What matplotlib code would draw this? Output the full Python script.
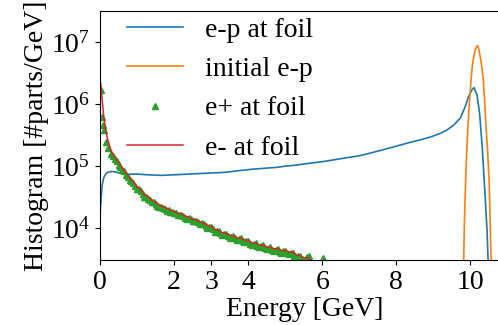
"""
e-p beam energy spectra at the foil, log histogram
"""
import numpy as np
import matplotlib
matplotlib.use('Agg')
import matplotlib.pyplot as plt
from matplotlib.ticker import NullLocator

plt.rcParams['font.family'] = ['Liberation Serif', 'DejaVu Serif']
plt.rcParams['mathtext.fontset'] = 'stix'
plt.rcParams['font.size'] = 20

# e-p at foil
ep_foil_x = [0.0, 0.03, 0.06, 0.1, 0.15, 0.2, 0.3, 0.4, 0.5, 0.6, 0.8, 1.0, 1.2, 1.4,
             1.67, 2.0, 2.3, 2.6, 3.0, 3.3, 3.5, 3.78, 4.1, 4.5, 4.8, 5.0, 5.3, 5.58,
             6.0, 6.3, 6.6, 7.0, 7.39, 7.7, 8.0, 8.29, 8.6, 8.92, 9.2, 9.37,
             9.55, 9.73, 9.86, 9.95, 10.05, 10.1, 10.18, 10.25, 10.32, 10.39, 10.45,
             10.48, 10.52]
ep_foil_y = [1.6e4, 3.0e4, 5.0e4, 6.5e4, 7.4e4, 7.9e4, 8.2e4, 8.1e4, 7.8e4, 7.6e4,
             7.4e4, 7.45e4, 7.3e4, 7.2e4, 7.1e4, 7.25e4, 7.4e4, 7.55e4, 7.75e4, 7.9e4,
             8.1e4, 8.5e4, 8.9e4, 9.3e4, 9.6e4, 1.0e5, 1.04e5, 1.1e5, 1.18e5, 1.26e5,
             1.35e5, 1.47e5, 1.68e5, 1.88e5, 2.1e5, 2.35e5, 2.62e5, 2.95e5, 3.4e5,
             3.85e5, 4.6e5, 6.0e5, 9.1e5, 1.32e6, 1.74e6, 1.86e6, 1.41e6, 7.1e5, 2.05e5,
             4.1e4, 9.3e3, 3.0e3, 1.0e3]

# initial e-p
ep_init_x = [9.78, 9.82, 9.84, 9.87, 9.90, 9.93, 9.97, 10.02, 10.05, 10.09, 10.13,
             10.19, 10.23, 10.27, 10.31, 10.35, 10.39, 10.43, 10.47, 10.51, 10.53,
             10.56, 10.58]
ep_init_y = [1.5e3, 3.0e3, 1.26e4, 5.2e4, 1.6e5, 3.8e5, 1.0e6, 2.45e6, 4.0e6, 5.75e6,
             7.6e6, 8.9e6, 7.6e6, 5.75e6, 4.0e6, 2.45e6, 1.0e6, 3.8e5, 1.6e5, 5.2e4,
             1.6e4, 3.0e3, 1.3e3]

# e+ at foil
pos_x = [0.03, 0.05, 0.08, 0.12, 0.17, 0.22, 0.3, 0.35, 0.4, 0.45, 0.5, 0.55, 0.6,
         0.65, 0.7, 0.75, 0.8, 0.85, 0.9, 0.95, 1.0, 1.05, 1.1, 1.15, 1.2, 1.25, 1.3,
         1.35, 1.4, 1.45, 1.5, 1.55, 1.6, 1.65, 1.7, 1.75, 1.8, 1.85, 1.9, 1.95, 2.0,
         2.05, 2.1, 2.15, 2.2, 2.25, 2.3, 2.35, 2.4, 2.45, 2.5, 2.55, 2.6, 2.65, 2.7,
         2.75, 2.8, 2.85, 2.9, 2.95, 3.0, 3.05, 3.1, 3.15, 3.2, 3.25, 3.3, 3.35, 3.4,
         3.45, 3.5, 3.55, 3.6, 3.65, 3.7, 3.75, 3.8, 3.85, 3.9, 3.95, 4.0, 4.05, 4.1,
         4.15, 4.2, 4.25, 4.3, 4.35, 4.4, 4.45, 4.5, 4.55, 4.6, 4.65, 4.7, 4.75, 4.8,
         4.85, 4.9, 4.95, 5.0, 5.05, 5.1, 5.15, 5.2, 5.25, 5.3, 5.35, 5.4, 5.45, 5.5,
         5.55, 5.6, 5.65, 6.03]
pos_y = [1.7e6, 6.3e5, 4.6e5, 3.8e5, 2.5e5, 2.0e5, 1.55e5, 1.45e5, 1.3e5, 1.2e5,
         1.05e5, 9.6e4, 8.8e4, 8.2e4, 7.2e4, 6.6e4, 6.0e4, 5.8e4, 5.3e4, 4.7e4,
         4.3e4, 4.2e4, 3.9e4, 3.5e4, 3.2e4, 3.2e4, 3.0e4, 2.8e4, 2.6e4, 2.6e4,
         2.45e4, 2.3e4, 2.2e4, 2.2e4, 2.1e4, 2.0e4, 1.9e4, 1.95e4, 1.85e4, 1.8e4,
         1.72e4, 1.75e4, 1.6e4, 1.6e4, 1.62e4, 1.55e4, 1.45e4, 1.42e4, 1.45e4, 1.4e4,
         1.28e4, 1.3e4, 1.3e4, 1.25e4, 1.15e4, 1.2e4, 1.18e4, 1.08e4, 1.02e4, 1.05e4,
         1.03e4, 9.6e3, 8.8e3, 9.1e3, 9.0e3, 8.2e3, 7.8e3, 8.0e3, 8.1e3, 7.4e3,
         7.0e3, 7.3e3, 7.4e3, 6.8e3, 6.4e3, 6.7e3, 6.8e3, 6.2e3, 5.9e3, 6.1e3, 6.2e3,
         5.6e3, 5.4e3, 5.5e3, 5.7e3, 5.1e3, 4.9e3, 5.2e3, 5.3e3, 4.7e3, 4.6e3, 4.8e3,
         4.9e3, 4.4e3, 4.3e3, 4.5e3, 4.6e3, 4.15e3, 4.0e3, 4.3e3, 4.3e3, 3.9e3, 3.8e3,
         4.0e3, 4.0e3, 3.5e3, 3.4e3, 3.55e3, 3.6e3, 3.2e3, 3.1e3, 3.3e3, 3.4e3, 3.6e3,
         3.3e3]

# e- at foil
ele_x = [0.02, 0.05, 0.1, 0.15, 0.2, 0.3, 0.4, 0.5, 0.6, 0.7, 0.8, 0.9, 1.0, 1.1, 1.2,
         1.3, 1.4, 1.5, 1.6, 1.7, 1.8, 1.9, 2.0, 2.1, 2.2, 2.3, 2.4, 2.5, 2.6, 2.7,
         2.8, 2.9, 3.0, 3.1, 3.2, 3.3, 3.4, 3.5, 3.6, 3.7, 3.8, 3.9, 4.0, 4.1, 4.2,
         4.3, 4.4, 4.5, 4.6, 4.7, 4.8, 4.9, 5.0, 5.1, 5.2, 5.3, 5.4, 5.5, 5.6, 5.7,
         5.8]
ele_y = [2.2e6, 1.35e6, 6.4e5, 4.0e5, 2.8e5, 1.75e5, 1.4e5, 1.15e5, 9.4e4, 7.9e4,
         6.5e4, 5.6e4, 4.7e4, 4.15e4, 3.5e4, 3.25e4, 2.8e4, 2.62e4, 2.38e4, 2.2e4,
         2.1e4, 1.93e4, 1.86e4, 1.74e4, 1.68e4, 1.56e4, 1.5e4, 1.38e4, 1.37e4, 1.25e4,
         1.2e4, 1.1e4, 1.07e4, 9.6e3, 9.1e3, 8.4e3, 8.3e3, 7.6e3, 7.5e3, 6.9e3, 6.9e3,
         6.4e3, 6.3e3, 5.8e3, 5.7e3, 5.3e3, 5.4e3, 4.9e3, 4.9e3, 4.6e3, 4.7e3, 4.3e3,
         4.4e3, 4.1e3, 4.1e3, 3.7e3, 3.6e3, 3.3e3, 3.35e3, 3.0e3, 2.8e3]

xticks = [0, 2, 3, 4, 6, 8, 10]

fig = plt.figure(figsize=(4.98, 3.25), dpi=100)
# the right edge of the axes runs past the figure border
ax = fig.add_axes([0.2008, 0.2, 0.824, 0.766])

ax.plot(ep_foil_x, ep_foil_y, color='tab:blue', lw=1.2, label='e-p at foil')
ax.plot(ep_init_x, ep_init_y, color='tab:orange', lw=1.2, label='initial e-p')
ax.plot(pos_x, pos_y, '^', color='tab:green', ms=4.5, label='e+ at foil')
ax.plot(ele_x, ele_y, color='tab:red', lw=1.1, label='e- at foil')

ax.set_yscale('log')
ax.set_xlim(0, 11.08)
ax.set_ylim(3.05e3, 3.2e7)
ax.set_xticks(xticks)
ax.yaxis.set_minor_locator(NullLocator())

ax.set_xlabel('Energy [GeV]', labelpad=2)
ax.set_ylabel('Histogram [#parts/GeV]', labelpad=1)

ax.legend(loc='upper left', bbox_to_anchor=(0.005, 1.075), frameon=False,
          labelspacing=0.5, handletextpad=0.8)

fig.savefig('out.png', dpi=100)
